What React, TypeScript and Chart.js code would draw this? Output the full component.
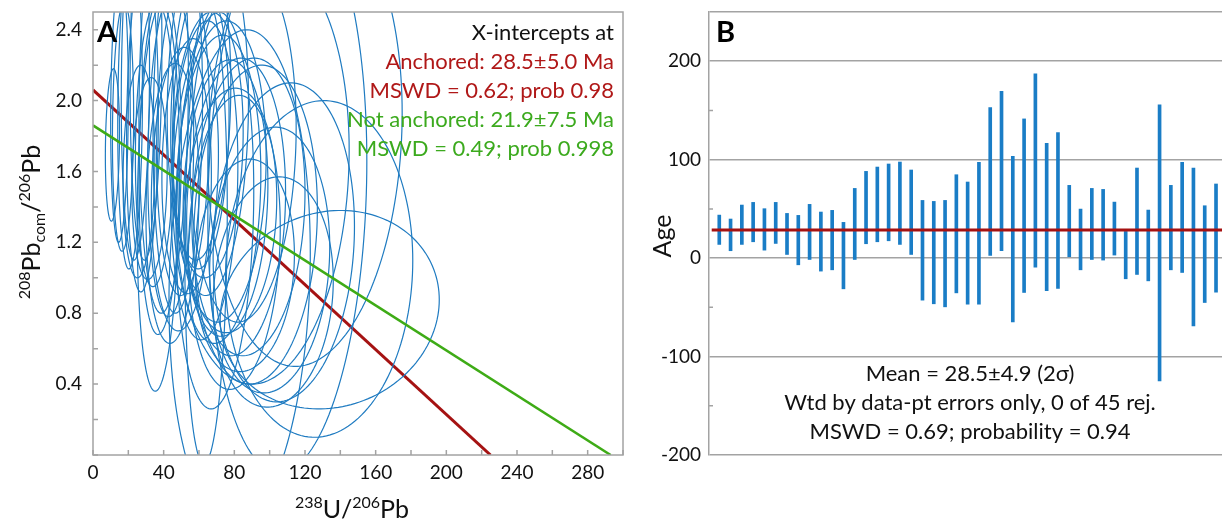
import React, { useEffect, useRef } from 'react';
import { Chart, registerables } from 'chart.js';
Chart.register(...registerables);

const FONT = 'Lato, "Open Sans", sans-serif';
const BLUE = '#1f7bc1';
const RED = '#a51212';
const GREEN = '#3eab16';
const TEXT_RED = '#b01818';
const TEXT_GREEN = '#3caa1e';
const GRAY = '#a3a3a3';
const INK = '#111111';

// ---------- Panel A data (238U/206Pb vs 208Pbcom/206Pb error ellipses) ----------
const ellCx = [11, 15, 17, 21, 24, 28, 32, 30, 37, 38, 40, 44, 45, 48, 51, 55, 83, 61, 65, 69, 64, 71, 73, 78, 80, 81, 86, 88, 100, 102, 128, 134, 95, 110, 120, 60, 66, 85, 92, 50, 35, 26, 108, 75, 63];
const ellCy = [1.75, 1.95, 1.85, 1.95, 2.1, 1.85, 1.56, 2.2, 1.45, 1.65, 2.0, 1.7, 1.42, 1.9, 1.8, 1.63, 1.0, 1.85, 1.75, 1.38, 1.25, 1.5, 1.6, 1.38, 1.2, 1.4, 1.07, 1.4, 1.1, 0.92, 1.05, 0.82, 1.6, 1.5, 1.8, 2.0, 1.9, 1.75, 1.3, 1.5, 1.75, 1.6, 1.2, 1.45, 1.55];
const ellSx = [4, 5, 6, 7, 8, 9, 10, 9, 12, 12, 14, 13, 15, 14, 15, 16, 40, 16, 20, 22, 12, 24, 25, 26, 26, 28, 28, 32, 34, 34, 53, 62, 50, 45, 55, 18, 22, 30, 35, 17, 11, 9, 40, 24, 19];
const ellSy = [0.43, 0.75, 0.7, 0.9, 1.0, 0.93, 0.57, 1.1, 1.09, 0.97, 1.2, 0.92, 0.79, 1.1, 0.9, 0.72, 1.4, 0.8, 0.75, 1.12, 1.3, 0.87, 0.85, 0.69, 0.83, 0.84, 0.6, 0.84, 0.75, 0.65, 0.95, 0.56, 1.2, 1.6, 1.3, 0.9, 1.0, 1.0, 0.9, 0.8, 0.8, 0.6, 0.9, 0.78, 0.9];
const ellRho = [0.15, 0.1, 0.1, 0.1, 0.1, 0.1, 0.1, 0.1, 0.15, 0.1, 0.1, 0.1, 0.1, 0.1, 0.1, 0.1, 0.1, 0.1, 0.1, 0.1, 0.1, 0.1, 0.1, 0.1, 0.1, 0.1, 0.1, 0.1, 0.1, 0.1, 0.05, 0.1, 0.1, 0.1, 0.1, 0.1, 0.1, 0.1, 0.1, 0.1, 0.1, 0.1, 0.1, 0.1, 0.1];

const anchoredX = [0, 225];
const anchoredY = [2.06, 0];
const freeX = [0, 293];
const freeY = [1.86, 0];

const xTicksA = [0, 20, 40, 60, 80, 100, 120, 140, 160, 180, 200, 220, 240, 260, 280, 300];
const yTicksA = [0, 0.2, 0.4, 0.6, 0.8, 1.0, 1.2, 1.4, 1.6, 1.8, 2.0, 2.2, 2.4];
const yLabelsA = ['0.4', '0.8', '1.2', '1.6', '2.0', '2.4'];

const annotationA = [
  { text: 'X-intercepts at', color: INK },
  { text: 'Anchored: 28.5±5.0 Ma', color: TEXT_RED },
  { text: 'MSWD = 0.62; prob 0.98', color: TEXT_RED },
  { text: 'Not anchored: 21.9±7.5 Ma', color: TEXT_GREEN },
  { text: 'MSWD = 0.49; prob 0.998', color: TEXT_GREEN },
];

// ---------- Panel B data (age error bars) ----------
const ageLow = [13.9, 7.5, 13.9, 16.6, 8.1, 14.9, 3.7, -6.8, -1.4, -13.2, -11.9, -31.2, -1.4, 14.6, 16.6, 17.6, 13.9, 3.7, -42.7, -46.4, -49.5, -35.3, -46.8, -46.8, 2.7, 7.5, -64.7, -34.9, -9.2, -33.2, -30.8, 1.4, -11.9, -1.4, -2.0, 3.1, -21.0, -16.6, -23.1, -124.7, -11.9, -14.6, -68.8, -45.1, -34.6];
const ageHigh = [43.7, 39.7, 53.9, 56.6, 50.2, 56.6, 45.4, 43.4, 54.6, 46.8, 48.5, 36.3, 70.8, 88.1, 92.5, 95.6, 97.6, 89.5, 58.6, 57.6, 58.6, 84.7, 77.3, 97.3, 152.9, 169.5, 103.4, 141.4, 187.1, 116.6, 127.5, 73.9, 49.8, 70.8, 69.8, 56.9, 27.1, 91.5, 48.8, 155.6, 73.9, 97.3, 91.5, 53.2, 75.3];
const meanAge = 28.5;
const meanLineX = [0.33, 45.53];
const statsB = ['Mean = 28.5±4.9 (2σ)', 'Wtd by data-pt errors only, 0 of 45 rej.', 'MSWD = 0.69; probability = 0.94'];

type Run = { t: string; size: number; dy: number };

function drawRuns(ctx: CanvasRenderingContext2D, runs: Run[], cx: number, cy: number, rot: number, main: number) {
  ctx.save();
  ctx.translate(cx, cy);
  ctx.rotate(rot);
  ctx.fillStyle = INK;
  ctx.textBaseline = 'alphabetic';
  ctx.textAlign = 'left';
  const widths = runs.map((r) => {
    ctx.font = `${r.size}px ${FONT}`;
    return ctx.measureText(r.t).width;
  });
  const total = widths.reduce((a, b) => a + b, 0);
  let x = -total / 2;
  const base = main * 0.36;
  runs.forEach((r, i) => {
    ctx.font = `${r.size}px ${FONT}`;
    ctx.fillText(r.t, x, base + r.dy);
    x += widths[i];
  });
  ctx.restore();
}

function drawEllipses(chart: any) {
  const { ctx, chartArea, scales } = chart;
  const xs = scales.x;
  const ys = scales.y;
  ctx.save();
  ctx.beginPath();
  ctx.rect(chartArea.left, chartArea.top, chartArea.right - chartArea.left, chartArea.bottom - chartArea.top);
  ctx.clip();
  ctx.strokeStyle = BLUE;
  ctx.lineWidth = 1.2;
  for (let i = 0; i < ellCx.length; i++) {
    const r = ellRho[i];
    const s = Math.sqrt(1 - r * r);
    ctx.beginPath();
    const N = 160;
    for (let k = 0; k <= N; k++) {
      const t = (k / N) * Math.PI * 2;
      const vx = ellCx[i] + ellSx[i] * Math.cos(t);
      const vy = ellCy[i] + ellSy[i] * (r * Math.cos(t) + s * Math.sin(t));
      const px = xs.getPixelForValue(vx);
      const py = ys.getPixelForValue(vy);
      if (k === 0) ctx.moveTo(px, py);
      else ctx.lineTo(px, py);
    }
    ctx.closePath();
    ctx.stroke();
  }
  ctx.restore();
}

const panelAPlugin = {
  id: 'panelA',
  afterDatasetDraw(chart: any, args: any) {
    if (args.index === 0) drawEllipses(chart);
  },
  afterDraw(chart: any) {
    const { ctx, chartArea: a, scales } = chart;
    ctx.save();
    ctx.strokeStyle = GRAY;
    ctx.lineWidth = 1.5;
    ctx.strokeRect(a.left, a.top, a.right - a.left, a.bottom - a.top);
    ctx.beginPath();
    scales.x.ticks.forEach((t: any) => {
      const px = scales.x.getPixelForValue(t.value);
      ctx.moveTo(px, a.bottom);
      ctx.lineTo(px, a.bottom - 5);
    });
    scales.y.ticks.forEach((t: any) => {
      const py = scales.y.getPixelForValue(t.value);
      ctx.moveTo(a.left, py);
      ctx.lineTo(a.left + 5, py);
    });
    ctx.stroke();
    ctx.fillStyle = '#000';
    ctx.font = `bold 29px ${FONT}`;
    ctx.textBaseline = 'top';
    ctx.textAlign = 'left';
    ctx.fillText('A', a.left + 4, a.top + 6);
    ctx.font = `22px ${FONT}`;
    ctx.textAlign = 'right';
    ctx.textBaseline = 'middle';
    annotationA.forEach((l, i) => {
      ctx.fillStyle = l.color;
      ctx.fillText(l.text, a.right - 9, 33 + i * 29);
    });
    ctx.restore();
    const M = 25;
    const S = 16;
    drawRuns(ctx, [
      { t: '238', size: S, dy: -10 },
      { t: 'U/', size: M, dy: 0 },
      { t: '206', size: S, dy: -10 },
      { t: 'Pb', size: M, dy: 0 },
    ], 352, 509, 0, M);
    drawRuns(ctx, [
      { t: '208', size: S, dy: -10 },
      { t: 'Pb', size: M, dy: 0 },
      { t: 'com', size: S, dy: 5 },
      { t: '/', size: M, dy: 0 },
      { t: '206', size: S, dy: -10 },
      { t: 'Pb', size: M, dy: 0 },
    ], 31, 222, -Math.PI / 2, M);
  },
};

const panelBPlugin = {
  id: 'panelB',
  afterDraw(chart: any) {
    const { ctx, chartArea: a, scales } = chart;
    ctx.save();
    ctx.strokeStyle = GRAY;
    ctx.lineWidth = 1.5;
    ctx.beginPath();
    scales.y.ticks.forEach((t: any) => {
      if (t.value % 100 !== 0 && t.value !== 250) {
        const py = scales.y.getPixelForValue(t.value);
        ctx.moveTo(a.left, py);
        ctx.lineTo(a.left + 4, py);
      }
    });
    ctx.stroke();
    ctx.fillStyle = '#000';
    ctx.font = `bold 29px ${FONT}`;
    ctx.textBaseline = 'top';
    ctx.textAlign = 'left';
    ctx.fillText('B', a.left + 7, a.top + 6);
    ctx.fillStyle = INK;
    ctx.font = `22px ${FONT}`;
    ctx.textAlign = 'center';
    ctx.textBaseline = 'middle';
    statsB.forEach((s, i) => {
      ctx.fillText(s, 970 - 640, 374 + i * 29);
    });
    ctx.restore();
    drawRuns(ctx, [{ t: 'Age', size: 25, dy: 0 }], 22, 236, -Math.PI / 2, 25);
  },
};

function PanelA() {
  const ref = useRef<HTMLCanvasElement>(null);
  useEffect(() => {
    const chart = new Chart(ref.current as HTMLCanvasElement, {
      type: 'scatter',
      data: {
        datasets: [
          {
            data: anchoredX.map((x, i) => ({ x, y: anchoredY[i] })),
            showLine: true,
            borderColor: RED,
            borderWidth: 3,
            pointRadius: 0,
            order: 2,
          },
          {
            data: freeX.map((x, i) => ({ x, y: freeY[i] })),
            showLine: true,
            borderColor: GREEN,
            borderWidth: 2.5,
            pointRadius: 0,
            order: 1,
          },
        ],
      },
      options: {
        animation: false,
        responsive: false,
        events: [],
        layout: { padding: { top: 12, right: 17, left: 0, bottom: 0 } },
        plugins: { legend: { display: false }, tooltip: { enabled: false } },
        scales: {
          x: {
            type: 'linear',
            min: 0,
            max: 300,
            afterBuildTicks: (s: any) => { s.ticks = xTicksA.map((v) => ({ value: v })); },
            afterFit: (s: any) => { s.height = 67; s.paddingLeft = 0; s.paddingRight = 0; },
            grid: { display: false, drawTicks: false },
            border: { display: false },
            ticks: {
              autoSkip: false,
              maxRotation: 0,
              padding: 6,
              color: INK,
              font: { family: FONT, size: 19 },
              callback: (v: any) => (Math.round(v) % 40 === 0 && v < 300 ? String(Math.round(v)) : ''),
            },
          },
          y: {
            type: 'linear',
            min: 0,
            max: 2.5,
            afterBuildTicks: (s: any) => { s.ticks = yTicksA.map((v) => ({ value: v })); },
            afterFit: (s: any) => { s.width = 93; s.paddingTop = 0; s.paddingBottom = 0; },
            grid: { display: false, drawTicks: false },
            border: { display: false },
            ticks: {
              autoSkip: false,
              padding: 11,
              color: INK,
              font: { family: FONT, size: 19 },
              callback: (v: any) => {
                const lbl = Number(v).toFixed(1);
                return yLabelsA.includes(lbl) ? lbl : '';
              },
            },
          },
        },
      },
      plugins: [panelAPlugin],
    } as any);
    return () => chart.destroy();
  }, []);
  return <canvas ref={ref} width={640} height={522} style={{ position: 'absolute', left: 0, top: 0, width: 640, height: 522 }} />;
}

function PanelB() {
  const ref = useRef<HTMLCanvasElement>(null);
  useEffect(() => {
    const chart = new Chart(ref.current as HTMLCanvasElement, {
      type: 'bar',
      data: {
        datasets: [
          {
            type: 'line',
            data: meanLineX.map((x) => ({ x, y: meanAge })),
            borderColor: RED,
            borderWidth: 3,
            pointRadius: 0,
            order: 0,
          },
          {
            type: 'bar',
            data: ageLow.map((lo, i) => ({ x: i + 1, y: [lo, ageHigh[i]] })),
            backgroundColor: '#1a7dc6',
            borderWidth: 0,
            barThickness: 3,
            order: 1,
          },
        ],
      },
      options: {
        animation: false,
        responsive: false,
        events: [],
        layout: { padding: { top: 12, right: 0, left: 0, bottom: 67 } },
        plugins: { legend: { display: false }, tooltip: { enabled: false } },
        scales: {
          x: { type: 'linear', min: 0.09, max: 45.53, display: false, offset: false },
          y: {
            type: 'linear',
            min: -200,
            max: 250,
            afterFit: (s: any) => { s.width = 69; s.paddingTop = 0; s.paddingBottom = 0; },
            grid: {
              drawTicks: false,
              lineWidth: 1.5,
              color: (c: any) => (c.tick && (c.tick.value % 100 === 0 || c.tick.value === 250) ? GRAY : 'rgba(0,0,0,0)'),
            },
            border: { display: true, color: GRAY, width: 1.5 },
            ticks: {
              stepSize: 50,
              autoSkip: false,
              padding: 8,
              color: INK,
              font: { family: FONT, size: 19 },
              callback: (v: any) => (v % 100 === 0 ? String(v) : ''),
            },
          },
        },
      },
      plugins: [panelBPlugin],
    } as any);
    return () => chart.destroy();
  }, []);
  return <canvas ref={ref} width={582} height={522} style={{ position: 'absolute', left: 640, top: 0, width: 582, height: 522 }} />;
}

export default function App() {
  return (
    <div style={{ position: 'fixed', left: 0, top: 0, width: 1222, height: 522, background: '#fff', overflow: 'hidden' }}>
      <PanelA />
      <PanelB />
    </div>
  );
}
